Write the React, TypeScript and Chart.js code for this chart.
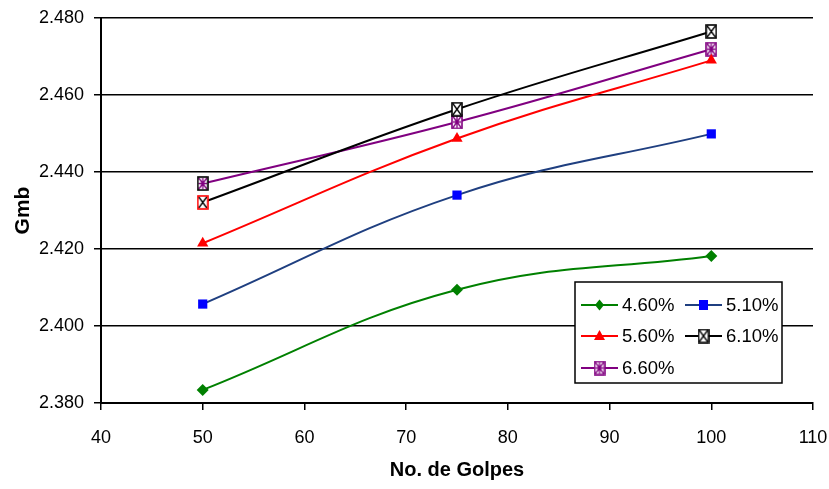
import React, { useEffect, useRef } from "react";
import { Chart, registerables } from "chart.js";

Chart.register(...registerables);

const xValues = [50, 75, 100];
const seriesNames = ["4.60%", "5.10%", "5.60%", "6.10%", "6.60%"];
const s460 = [2.3834, 2.4094, 2.4182];
const s510 = [2.4057, 2.434, 2.4499];
const s560 = [2.4215, 2.4487, 2.469];
const s610 = [2.4321, 2.4563, 2.4765];
const s660 = [2.437, 2.453, 2.4719];
const xTicks = [40, 50, 60, 70, 80, 90, 100, 110];
const yTicks = [2.38, 2.4, 2.42, 2.44, 2.46, 2.48];

const FONT = "'Liberation Sans', Arial, sans-serif";

function boxMarker(border: string, inner: string, kind: "x" | "ast"): HTMLCanvasElement {
  const w = 12, h = 15;
  const c = document.createElement("canvas");
  c.width = w; c.height = h;
  const ctx = c.getContext("2d")!;
  ctx.fillStyle = "#ffffff";
  ctx.fillRect(1, 1, w - 2, h - 2);
  ctx.strokeStyle = inner;
  ctx.lineWidth = 1.3;
  ctx.beginPath();
  ctx.moveTo(2, 2); ctx.lineTo(w - 2, h - 2);
  ctx.moveTo(w - 2, 2); ctx.lineTo(2, h - 2);
  if (kind === "ast") {
    ctx.moveTo(w / 2, 2); ctx.lineTo(w / 2, h - 2);
    ctx.moveTo(2, h / 2); ctx.lineTo(w - 2, h / 2);
  }
  ctx.stroke();
  ctx.strokeStyle = border;
  ctx.lineWidth = 1.6;
  ctx.strokeRect(1, 1, w - 2, h - 2);
  return c;
}

export default function App() {
  const ref = useRef<HTMLCanvasElement>(null);
  useEffect(() => {
    const m610 = boxMarker("#000000", "#000000", "x");
    const m610r = boxMarker("#ff0000", "#000000", "x");
    const m660 = boxMarker("#800080", "#800080", "ast");
    const m660k = boxMarker("#000000", "#800080", "ast");

    const mk = (vals: number[]) => vals.map((v, i) => ({ x: xValues[i], y: v }));

    const legendPlugin = {
      id: "boxLegend",
      afterDraw(chart: any) {
        const ctx = chart.ctx as CanvasRenderingContext2D;
        ctx.save();
        const L = 575, T = 282, R = 782, B = 383;
        ctx.fillStyle = "#fff";
        ctx.fillRect(L, T, R - L, B - T);
        ctx.strokeStyle = "#000";
        ctx.lineWidth = 1.5;
        ctx.strokeRect(L, T, R - L, B - T);
        const items = [
          { n: seriesNames[0], col: 0, row: 0, line: "#008000", m: "diamond", c: "#008000" },
          { n: seriesNames[1], col: 1, row: 0, line: "#1f3f80", m: "square", c: "#0000ff" },
          { n: seriesNames[2], col: 0, row: 1, line: "#ff0000", m: "triangle", c: "#ff0000" },
          { n: seriesNames[3], col: 1, row: 1, line: "#000000", m: "img", img: m610 },
          { n: seriesNames[4], col: 0, row: 2, line: "#800080", m: "img", img: m660 },
        ];
        const rowsY = [305, 336, 368];
        ctx.font = "18.5px " + FONT;
        ctx.textBaseline = "middle";
        ctx.textAlign = "left";
        for (const it of items as any[]) {
          const x0 = it.col === 0 ? 581 : 685;
          const y = rowsY[it.row];
          ctx.strokeStyle = it.line;
          ctx.lineWidth = 2;
          ctx.beginPath();
          ctx.moveTo(x0, y); ctx.lineTo(x0 + 37, y);
          ctx.stroke();
          const cx = x0 + 18.5;
          ctx.fillStyle = it.c;
          if (it.m === "diamond") {
            ctx.beginPath();
            ctx.moveTo(cx, y - 5.5); ctx.lineTo(cx + 4.5, y); ctx.lineTo(cx, y + 5.5); ctx.lineTo(cx - 4.5, y);
            ctx.closePath(); ctx.fill();
          } else if (it.m === "square") {
            ctx.fillRect(cx - 4.5, y - 5, 9, 10);
          } else if (it.m === "triangle") {
            ctx.beginPath();
            ctx.moveTo(cx, y - 6); ctx.lineTo(cx + 5.5, y + 4); ctx.lineTo(cx - 5.5, y + 4);
            ctx.closePath(); ctx.fill();
          } else {
            ctx.drawImage(it.img, cx - 6, y - 7.5);
          }
          ctx.fillStyle = "#000";
          ctx.fillText(it.n, x0 + 41, y + 1);
        }
        ctx.restore();
      },
    };

    const chart = new Chart(ref.current!, {
      type: "line",
      data: {
        datasets: [
          { label: seriesNames[0], data: mk(s460), borderColor: "#008000", backgroundColor: "#008000", borderWidth: 2, pointStyle: "rectRot", pointRadius: 6, pointBorderWidth: 0, tension: 0.4 },
          { label: seriesNames[1], data: mk(s510), borderColor: "#1f3f80", backgroundColor: "#0000ff", pointBackgroundColor: "#0000ff", pointBorderColor: "#0000ff", borderWidth: 2, pointStyle: "rect", pointRadius: 6.5, pointBorderWidth: 0, tension: 0.4 },
          { label: seriesNames[2], data: mk(s560), borderColor: "#ff0000", backgroundColor: "#ff0000", borderWidth: 2, pointStyle: "triangle", pointRadius: 6.5, pointBorderWidth: 0, tension: 0.4 },
          { label: seriesNames[3], data: mk(s610), borderColor: "#000000", backgroundColor: "#000000", borderWidth: 2, pointStyle: [m610r, m610, m610] as any, tension: 0.4 },
          { label: seriesNames[4], data: mk(s660), borderColor: "#800080", backgroundColor: "#800080", borderWidth: 2, pointStyle: [m660k, m660, m660] as any, tension: 0.4 },
        ],
      },
      options: {
        responsive: false,
        animation: false,
        devicePixelRatio: 1,
        layout: { padding: { top: 18, right: 16, left: 0, bottom: 0 } },
        plugins: { legend: { display: false }, tooltip: { enabled: false } },
        scales: {
          x: {
            type: "linear",
            min: 40,
            max: 110,
            afterBuildTicks: (s: any) => { s.ticks = xTicks.map((v) => ({ value: v })); },
            afterFit: (s: any) => { s.height = 86; s.paddingLeft = 0; s.paddingRight = 0; },
            grid: { drawOnChartArea: false, drawTicks: true, tickLength: 7, color: "#000", lineWidth: 1.5 },
            border: { color: "#000", width: 2 },
            ticks: { color: "#000", font: { family: FONT, size: 18 }, padding: 17, maxRotation: 0 },
            title: { display: true, text: "No. de Golpes", color: "#000", font: { family: FONT, size: 20, weight: "bold" }, padding: { top: 0, bottom: 7 } },
          },
          y: {
            type: "linear",
            min: 2.38,
            max: 2.48,
            afterBuildTicks: (s: any) => { s.ticks = yTicks.map((v) => ({ value: v })); },
            afterFit: (s: any) => { s.width = 101; s.paddingTop = 0; s.paddingBottom = 0; },
            grid: { drawOnChartArea: true, drawTicks: true, tickLength: 7, color: "#000", lineWidth: 1.5 },
            border: { color: "#000", width: 2 },
            ticks: { color: "#000", font: { family: FONT, size: 18 }, padding: 10, callback: (v: any) => Number(v).toFixed(3) },
            title: { display: true, text: "Gmb", color: "#000", font: { family: FONT, size: 21, weight: "bold" }, padding: { top: 11, bottom: 0 } },
          },
        },
      },
      plugins: [legendPlugin],
    });
    return () => chart.destroy();
  }, []);
  return (
    <div style={{ position: "absolute", left: 0, top: 0, width: 829, height: 489, background: "#fff" }}>
      <canvas ref={ref} width={829} height={489} />
    </div>
  );
}
